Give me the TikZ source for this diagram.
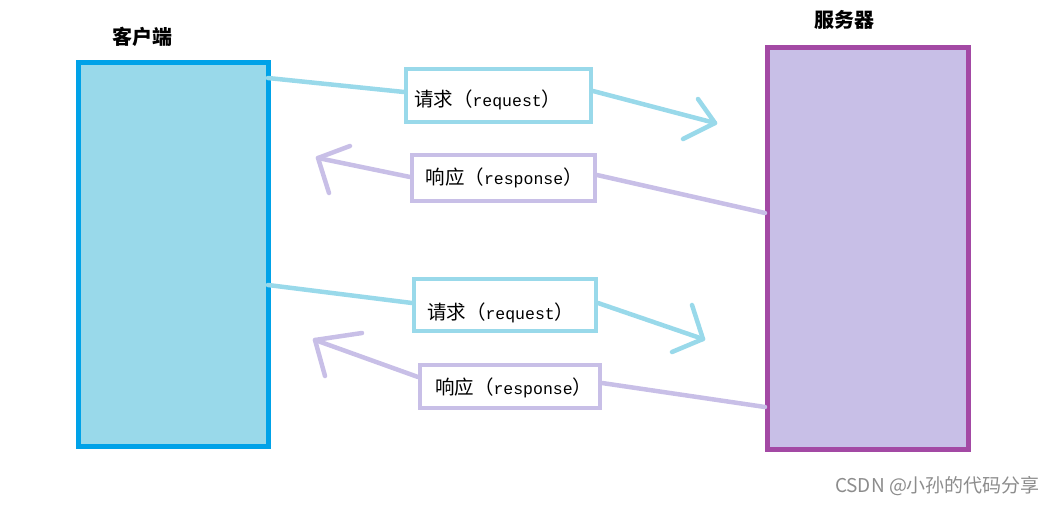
\documentclass[tikz,border=0pt]{standalone}
\usepackage{fontspec}
\newfontfamily\cjk{Noto Sans CJK SC}
\newfontfamily\lat{Liberation Mono}
\definecolor{cliFill}{HTML}{99D9EA}
\definecolor{cliBorder}{HTML}{00A2E8}
\definecolor{srvFill}{HTML}{C8BFE7}
\definecolor{srvBorder}{HTML}{A349A4}
\definecolor{reqCol}{HTML}{99D9EA}
\definecolor{resCol}{HTML}{C8BFE7}
\definecolor{wmCol}{HTML}{8C8C8C}
\newcommand{\boxtext}[3]{\rlap{\raisebox{#1}[\height][\depth]{{\cjk\fontsize{19.5}{21}\selectfont #2（}{\lat\fontsize{16.5}{21}\selectfont #3}{\cjk\fontsize{19.5}{21}\selectfont ）}}}}
\begin{document}
\begin{tikzpicture}[x=1pt,y=-1pt,
  clientbox/.style={draw=cliBorder,fill=cliFill,line width=5pt,inner sep=0pt,minimum width=190pt,minimum height=384pt},
  serverbox/.style={draw=srvBorder,fill=srvFill,line width=5pt,inner sep=0pt,minimum width=201pt,minimum height=401.5pt},
  msgbox/.style={line width=4pt,fill=white,inner ysep=0pt,align=left},
  reqbox/.style={msgbox,draw=reqCol},
  resbox/.style={msgbox,draw=resCol},
  reqline/.style={draw=reqCol,line width=4.5pt,line cap=round,line join=round},
  resline/.style={draw=resCol,line width=4.5pt,line cap=round,line join=round},
  titletext/.style={font=\cjk\bfseries\fontsize{20}{22}\selectfont,inner sep=0pt}
]
\useasboundingbox (0,0) rectangle (1058,514);

% main blocks
\node[clientbox] (client) at (173.5,254.5) {};
\node[serverbox] (server) at (868,248.25) {};
\node[titletext] (clientlabel) at (142,37) {客户端};
\node[titletext] (serverlabel) at (844,20) {服务器};

% message boxes
\node[reqbox,inner xsep=8pt,text width=169pt,minimum height=53pt] (req1) at (498.5,95.5) {\boxtext{-4.5pt}{请求}{request}};
\node[resbox,inner xsep=13.5pt,text width=156pt,minimum height=46pt] (res1) at (503.5,178) {\boxtext{0pt}{响应}{response}};
\node[reqbox,inner xsep=13pt,text width=156pt,minimum height=52pt] (req2) at (505,305) {\boxtext{-7.5pt}{请求}{request}};
\node[resbox,inner xsep=15pt,text width=150pt,minimum height=43pt] (res2) at (510,386.5) {\boxtext{-1.5pt}{响应}{response}};

% connector end points
\coordinate (c1) at (268,78);
\coordinate (c2) at (268,285);
\coordinate (s1) at (765,213);
\coordinate (s2) at (765,407);
\coordinate (t1) at (715,123);
\coordinate (t1a) at (698,99);
\coordinate (t1b) at (683,139);
\coordinate (t2) at (318,158);
\coordinate (t2a) at (350,146);
\coordinate (t2b) at (329,193);
\coordinate (t3) at (703,339);
\coordinate (t3a) at (692,305);
\coordinate (t3b) at (672,352);
\coordinate (t4) at (315,340);
\coordinate (t4a) at (362,333);
\coordinate (t4b) at (325,376);

% request 1
\draw[reqline] (c1) -- ([yshift=3.5pt]req1.west);
\draw[reqline] ([yshift=4.5pt]req1.east) -- (t1);
\draw[reqline] (t1a) -- (t1) -- (t1b);
% response 1
\draw[resline] (s1) -- ([yshift=3pt]res1.east);
\draw[resline] ([yshift=1pt]res1.west) -- (t2);
\draw[resline] (t2a) -- (t2) -- (t2b);
% request 2
\draw[reqline] (c2) -- ([yshift=2pt]req2.west);
\draw[reqline] ([yshift=2pt]req2.east) -- (t3);
\draw[reqline] (t3a) -- (t3) -- (t3b);
% response 2
\draw[resline] (s2) -- ([yshift=3.5pt]res2.east);
\draw[resline] ([yshift=9.5pt]res2.west) -- (t4);
\draw[resline] (t4a) -- (t4) -- (t4b);

% watermark
\node[font=\cjk\fontsize{19}{21}\selectfont,text=wmCol,inner sep=0pt] (wm) at (937.5,486) {CSDN @小孙的代码分享};
\end{tikzpicture}
\end{document}
